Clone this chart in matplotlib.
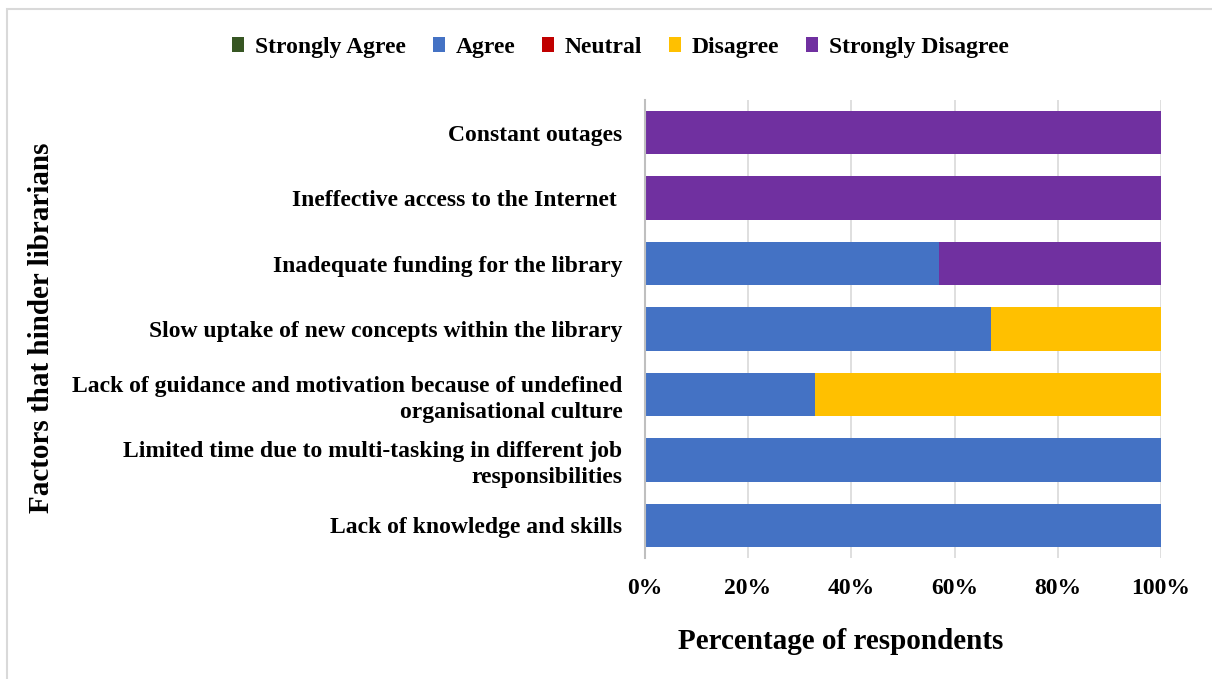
import matplotlib.pyplot as plt
from matplotlib.patches import Rectangle
import numpy as np

# survey responses, percent of respondents per factor (bottom to top)
factors = [
    'Lack of knowledge and skills',
    'Limited time due to multi-tasking in different job\nresponsibilities',
    'Lack of guidance and motivation because of undefined\norganisational culture',
    'Slow uptake of new concepts within the library',
    'Inadequate funding for the library',
    'Ineffective access to the Internet ',
    'Constant outages',
]
strongly_agree = [0, 0, 0, 0, 0, 0, 0]
agree = [100, 100, 33, 67, 57, 0, 0]
neutral = [0, 0, 0, 0, 0, 0, 0]
disagree = [0, 0, 67, 33, 0, 0, 0]
strongly_disagree = [0, 0, 0, 0, 43, 100, 100]

series = [
    ('Strongly Agree', strongly_agree, '#375623'),
    ('Agree', agree, '#4472C4'),
    ('Neutral', neutral, '#C00000'),
    ('Disagree', disagree, '#FFC000'),
    ('Strongly Disagree', strongly_disagree, '#7030A0'),
]

plt.rcParams['font.family'] = ['Liberation Serif', 'DejaVu Serif']
plt.rcParams['font.weight'] = 'bold'

fig = plt.figure(figsize=(12.12, 6.79), dpi=100)
ax = fig.add_axes([0.532, 0.178, 0.426, 0.675])

y = np.arange(len(factors))
left = np.zeros(len(factors))
for name, vals, color in series:
    vals = np.array(vals, dtype=float)
    ax.barh(y, vals, left=left, height=0.66, color=color, label=name, zorder=2)
    left += vals

ax.set_xlim(0, 100)
ax.set_ylim(-0.5, len(factors) - 0.5)
ax.set_xticks(np.arange(0, 101, 20))
ax.set_xticklabels([f'{t}%' for t in range(0, 101, 20)], fontsize=17, fontweight='bold')
ax.set_yticks(y)
ax.set_yticklabels(factors, fontsize=17, fontweight='bold', linespacing=1.3)
ax.tick_params(axis='both', length=0)
ax.tick_params(axis='x', pad=14)
ax.tick_params(axis='y', pad=16)
ax.xaxis.grid(True, color='#d9d9d9', linewidth=1.2, zorder=0)
for side in ['top', 'right', 'bottom']:
    ax.spines[side].set_visible(False)
ax.spines['left'].set_color('#bfbfbf')
ax.spines['left'].set_linewidth(1.5)

fig.text(0.694, 0.055, 'Percentage of respondents', fontsize=21,
         fontweight='bold', ha='center', va='center')
fig.text(0.034, 0.518, 'Factors that hinder librarians', rotation=90,
         fontsize=21, fontweight='bold', ha='center', va='center')

fig.legend(loc='center', bbox_to_anchor=(0.512, 0.93), ncol=5, frameon=False,
           prop={'size': 17, 'weight': 'bold'}, handlelength=0.5, handleheight=0.6,
           handletextpad=0.45, columnspacing=1.15)

# light frame around the figure
fig.patches.append(Rectangle((7 / 1212, -0.02), 1.2, 1.02 - 9 / 679,
                             transform=fig.transFigure, fill=False,
                             edgecolor='#d9d9d9', linewidth=1.5))

fig.savefig('out.png', dpi=100)
